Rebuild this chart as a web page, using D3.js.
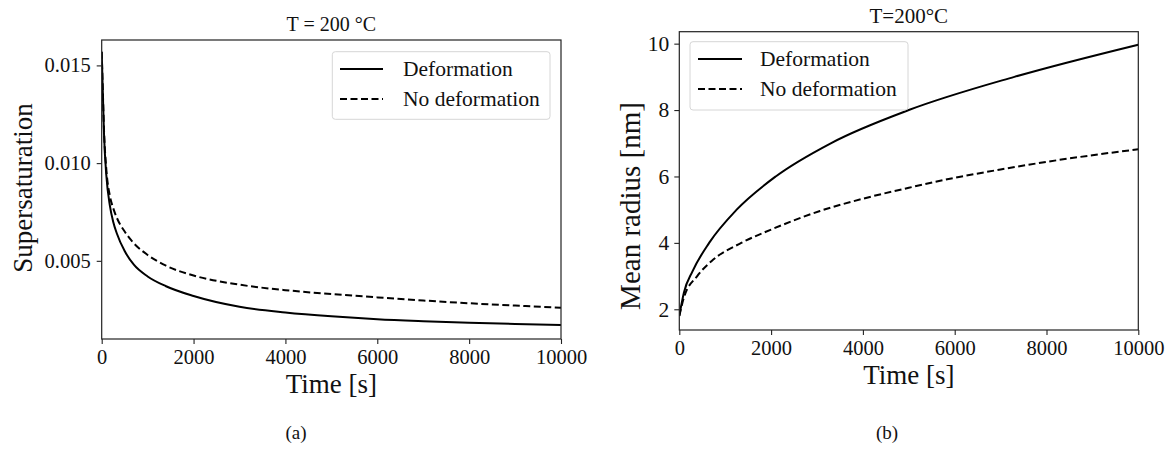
<!DOCTYPE html>
<html>
<head>
<meta charset="utf-8">
<script src="https://cdn.jsdelivr.net/npm/d3@7"></script>
<style>
  html, body { margin: 0; padding: 0; background: #fff; }
  svg, svg text { font-family: "Liberation Serif", "Times New Roman", serif !important; }
</style>
</head>
<body>
<svg id="chart" width="1171" height="450"></svg>
<script>
// ---------- data ----------
const timeTicks = [0, 2000, 4000, 6000, 8000, 10000];
const seriesNames = ["Deformation", "No deformation"];

// Panel (a): supersaturation vs time
const satTime      = [0, 20, 50, 100, 180, 250, 330, 500, 700, 1000, 1400, 2000, 3000, 4000, 5000, 6000, 7000, 8000, 9000, 10000];
const satDeform    = [0.0157, 0.0140, 0.0115, 0.0094, 0.0078, 0.0070, 0.0064, 0.0055, 0.0048, 0.0042, 0.0037, 0.0032, 0.00265, 0.00236, 0.00216, 0.00201, 0.00191, 0.00183, 0.00177, 0.00172];
const satNoDeform  = [0.0157, 0.0141, 0.0117, 0.0097, 0.0083, 0.0077, 0.0072, 0.0065, 0.0059, 0.0053, 0.00475, 0.00425, 0.00378, 0.00350, 0.00330, 0.00313, 0.00297, 0.00283, 0.00271, 0.0026];
const satTicks     = [0.005, 0.010, 0.015];

// Panel (b): mean radius vs time
const radTimeA     = [0, 100, 290, 650, 1250, 2100, 3300, 5000, 7300, 10000];
const radDeform    = [1.8, 2.5, 3.15, 4.0, 5.0, 6.0, 7.0, 8.0, 9.0, 9.97];
const radTimeB     = [0, 100, 390, 700, 1350, 2000, 3065, 4000, 5000, 6000, 7000, 8000, 9000, 10000];
const radNoDeform  = [1.8, 2.35, 3.0, 3.45, 4.0, 4.4, 4.96, 5.33, 5.66, 5.96, 6.21, 6.44, 6.64, 6.82];
const radTicks     = [2, 4, 6, 8, 10];

// ---------- drawing ----------
const svg = d3.select("#chart");
const DASH = "7,3.5";
const FONT = "'Liberation Serif', 'Times New Roman', serif";

function panel(cfg) {
  const g = svg.append("g");
  const x = d3.scaleLinear().domain([0, 10000]).range([cfg.left, cfg.right]);
  const y = d3.scaleLinear().domain(cfg.yDomain).range([cfg.bottom, cfg.top]);

  // x axis
  const xa = g.append("g").attr("transform", `translate(0,${cfg.bottom})`)
    .call(d3.axisBottom(x).tickValues(timeTicks).tickFormat(d3.format("d"))
      .tickSizeInner(5).tickSizeOuter(0).tickPadding(5));
  xa.attr("font-family", null).style("font-family", FONT);
  xa.select(".domain").remove();
  xa.selectAll("line").attr("stroke", "#222").attr("stroke-width", 1.1);
  xa.selectAll("text").style("font-size", "20.5px").attr("fill", "#111").style("font-family", FONT);

  // y axis
  const ya = g.append("g").attr("transform", `translate(${cfg.left},0)`)
    .call(d3.axisLeft(y).tickValues(cfg.yTicks).tickFormat(cfg.yFormat)
      .tickSizeInner(5).tickSizeOuter(0).tickPadding(cfg.yPad));
  ya.attr("font-family", null).style("font-family", FONT);
  ya.select(".domain").remove();
  ya.selectAll("line").attr("stroke", "#222").attr("stroke-width", 1.1);
  ya.selectAll("text").style("font-size", cfg.yTickSize).attr("fill", "#111").style("font-family", FONT);

  // clip
  const clipId = "clip" + cfg.id;
  svg.append("clipPath").attr("id", clipId).append("rect")
    .attr("x", cfg.left).attr("y", cfg.top)
    .attr("width", cfg.right - cfg.left).attr("height", cfg.bottom - cfg.top);

  const line = d3.line().x(d => x(d[0])).y(d => y(d[1])).curve(d3.curveMonotoneX);
  const s1 = cfg.ta.map((t, i) => [t, cfg.a[i]]);
  const s2 = cfg.tb.map((t, i) => [t, cfg.b[i]]);
  const lg = g.append("g").attr("clip-path", `url(#${clipId})`);
  lg.append("path").datum(s2).attr("d", line).attr("fill", "none")
    .attr("stroke", "#000").attr("stroke-width", 2).attr("stroke-dasharray", DASH);
  lg.append("path").datum(s1).attr("d", line).attr("fill", "none")
    .attr("stroke", "#000").attr("stroke-width", 2);

  // frame
  g.append("rect").attr("x", cfg.left).attr("y", cfg.top)
    .attr("width", cfg.right - cfg.left).attr("height", cfg.bottom - cfg.top)
    .attr("fill", "none").attr("stroke", "#222").attr("stroke-width", 1.2);

  // title
  g.append("text").attr("x", (cfg.left + cfg.right) / 2).attr("y", cfg.titleY)
    .attr("text-anchor", "middle").style("font-size", cfg.titleSize).attr("fill", "#111")
    .text(cfg.title);

  // x label
  g.append("text").attr("x", (cfg.left + cfg.right) / 2).attr("y", cfg.bottom + 54)
    .attr("text-anchor", "middle").style("font-size", "27px").attr("fill", "#111")
    .text("Time [s]");

  // y label
  g.append("text").attr("transform", `translate(${cfg.yLabelX},${cfg.yLabelY}) rotate(-90)`)
    .attr("text-anchor", "middle").style("font-size", cfg.yLabelSize).attr("fill", "#111")
    .text(cfg.yLabel);

  // legend
  const L = cfg.legend;
  const leg = g.append("g");
  leg.append("rect").attr("x", L.x0).attr("y", L.y0)
    .attr("width", L.x1 - L.x0).attr("height", L.y1 - L.y0)
    .attr("rx", 3).attr("fill", "#fff").attr("fill-opacity", 0.85)
    .attr("stroke", "#d6d6d6").attr("stroke-width", 1);
  seriesNames.forEach((name, i) => {
    const yy = L.rows[i];
    leg.append("line").attr("x1", L.lx0).attr("x2", L.lx1).attr("y1", yy).attr("y2", yy)
      .attr("stroke", "#000").attr("stroke-width", 2)
      .attr("stroke-dasharray", i === 1 ? DASH : null);
    leg.append("text").attr("x", L.tx).attr("y", yy).attr("dy", "0.33em")
      .style("font-size", "21.5px").attr("fill", "#111").text(name);
  });

  // caption
  g.append("text").attr("x", cfg.capX).attr("y", 439)
    .attr("text-anchor", "middle").style("font-size", "19px").attr("fill", "#111")
    .text(cfg.caption);
}

panel({
  id: "a", left: 101.7, right: 561, top: 40, bottom: 339,
  yDomain: [0.001, 0.0163], yTicks: satTicks, yFormat: d3.format(".3f"),
  yPad: 6, yTickSize: "20.5px",
  ta: satTime, a: satDeform, tb: satTime, b: satNoDeform,
  title: "T = 200 °C", titleY: 31, titleSize: "20px",
  yLabel: "Supersaturation", yLabelX: 32, yLabelY: 188, yLabelSize: "27px",
  legend: { x0: 332.3, x1: 550, y0: 51.7, y1: 119.3, rows: [69, 99], lx0: 340, lx1: 383, tx: 403 },
  caption: "(a)", capX: 296
});

panel({
  id: "b", left: 679.3, right: 1138.3, top: 31.7, bottom: 330,
  yDomain: [1.376, 10.36], yTicks: radTicks, yFormat: d3.format("d"),
  yPad: 5, yTickSize: "21.5px",
  ta: radTimeA, a: radDeform, tb: radTimeB, b: radNoDeform,
  title: "T=200°C", titleY: 23, titleSize: "21px",
  yLabel: "Mean radius [nm]", yLabelX: 640, yLabelY: 206, yLabelSize: "29px",
  legend: { x0: 690, x1: 908, y0: 41.7, y1: 110, rows: [59, 89], lx0: 698, lx1: 742, tx: 760 },
  caption: "(b)", capX: 887
});
</script>
</body>
</html>
